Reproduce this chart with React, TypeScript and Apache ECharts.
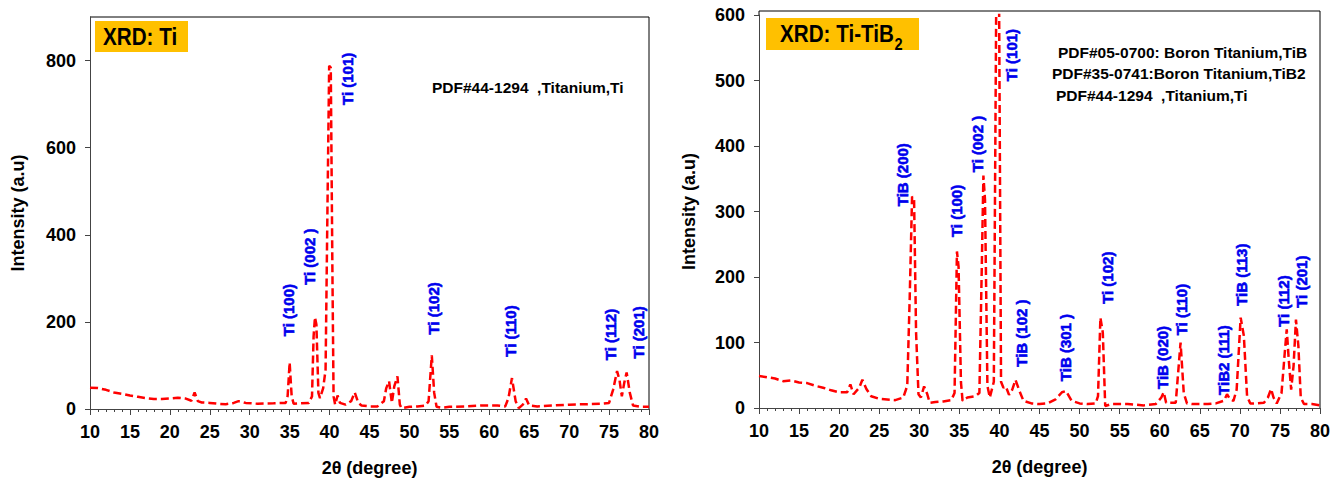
import React, { useEffect, useRef } from "react";
import * as echarts from "echarts";

// ---------- Ti pattern (left) ----------
const tiX = [10, 11, 12, 13, 14, 15, 16, 17, 18, 19, 20, 21, 22, 22.7, 23.1, 23.5, 24, 25, 26, 27, 28, 28.6, 29.5, 31, 33, 34.5, 34.75, 35.0, 35.25, 35.5, 37.4, 37.8, 38.0, 38.17, 38.35, 38.6, 38.8, 39.2, 39.5, 39.7, 39.95, 40.15, 40.35, 40.5, 40.7, 41.0, 41.3, 42, 42.7, 43.15, 43.6, 44, 45, 46, 46.8, 47.1, 47.45, 47.8, 48.1, 48.5, 48.8, 49, 50, 51, 52, 52.4, 52.8, 53.1, 53.4, 54, 55, 57, 59, 61, 62, 62.4, 62.84, 63.3, 63.7, 64.2, 64.6, 65, 66, 68, 70, 72, 74, 75, 75.5, 76.0, 76.3, 76.6, 76.9, 77.2, 77.6, 78, 79, 80];
const tiY = [49, 48, 44, 38, 35, 31, 28, 25, 23, 23, 24, 26, 24, 19, 38, 18, 15, 14, 12, 11, 14, 18, 14, 12, 13, 14, 30, 107, 30, 12, 14, 29, 167, 211, 194, 37, 25, 48, 90, 405, 788, 784, 328, 29, 10, 31, 14, 10, 18, 38, 14, 8, 6, 6, 18, 48, 64, 14, 52, 75, 10, 2, 5, 6, 8, 18, 123, 37, 5, 3, 5, 6, 8, 8, 6, 25, 71, 18, 2, 10, 24, 8, 6, 8, 10, 11, 12, 14, 44, 87, 67, 29, 60, 84, 37, 8, 5, 5];

const tiLabelNames = ["Ti (100)", "Ti (002 )", "Ti (101)", "Ti (102)", "Ti (110)", "Ti (112)", "Ti (201)"];
const tiLabelX = [34.8, 37.5, 42.3, 53.0, 62.7, 75.2, 78.65];
const tiLabelY = [167, 285, 698, 171, 120, 112, 116];

// ---------- Ti-TiB2 pattern (right) ----------
const tibX = [10, 11, 12, 13, 14, 15, 16, 17, 18, 19, 20, 21, 21.4, 21.8, 22.5, 22.9, 23.4, 24, 25, 26, 27, 28, 28.5, 28.8, 29.1, 29.35, 29.6, 29.9, 30.2, 30.6, 31, 31.3, 32, 33, 34, 34.4, 34.7, 34.9, 35.2, 35.4, 36, 37, 37.5, 37.8, 38.0, 38.2, 38.5, 38.8, 39.3, 39.8, 40.2, 40.5, 40.8, 41.2, 41.6, 42, 42.5, 43, 44, 45, 46, 47, 47.8, 48.3, 49, 50, 51, 52, 52.3, 52.6, 52.9, 53.2, 54, 56, 58, 59.5, 60.2, 60.5, 60.8, 62, 62.3, 62.6, 63, 63.4, 64, 66, 67, 68, 68.4, 68.8, 69.2, 69.6, 70.1, 70.5, 70.9, 71.3, 72, 73, 73.5, 73.9, 74.2, 74.6, 75.2, 75.6, 75.85, 76.1, 76.4, 76.7, 77.0, 77.3, 77.6, 78, 79, 80];
const tibY = [49, 47, 45, 41, 42, 39, 38, 34, 31, 27, 24, 24, 36, 21, 31, 43, 29, 18, 14, 13, 12, 16, 34, 166, 323, 318, 115, 21, 16, 33, 21, 8, 9, 10, 12, 23, 239, 216, 39, 11, 16, 18, 23, 216, 355, 318, 34, 16, 40, 1000, 40, 31, 33, 20, 28, 43, 26, 11, 7, 6, 7, 13, 24, 26, 11, 7, 6, 7, 18, 138, 115, 3, 6, 6, 4, 6, 16, 24, 8, 8, 54, 100, 23, 7, 6, 6, 7, 11, 21, 13, 11, 28, 138, 110, 18, 7, 7, 8, 16, 29, 16, 7, 23, 84, 120, 74, 28, 64, 135, 95, 16, 6, 6, 4];

const tibLabelNames = ["TiB (200)", "Ti (100)", "Ti (002 )", "Ti (101)", "TiB (102 )", "TiB (301 )", "Ti (102)", "TiB (020)", "Ti (110)", "TiB2 (111)", "TiB (113)", "Ti (112)", "Ti (201)"];
const tibLabelX = [27.9, 34.6, 37.25, 41.5, 42.75, 48.25, 53.5, 60.4, 62.75, 67.9, 70.25, 75.5, 77.75];
const tibLabelY = [308, 261, 360, 499, 63, 41, 159, 29, 111, 20, 156, 124, 153];

const xTicks = { min: 10, max: 80, interval: 5 };
const leftYTicks = [0, 200, 400, 600, 800];
const rightYTicks = [0, 100, 200, 300, 400, 500, 600];

const FONT = "'Liberation Sans', Arial, Helvetica, sans-serif";
const BLUE = "#0000ee";

function measure(text: string, font: string): number {
  const c = document.createElement("canvas").getContext("2d");
  if (!c) return text.length * 12;
  c.font = font;
  return c.measureText(text).width;
}

export default function App() {
  const ref = useRef<HTMLDivElement>(null);

  useEffect(() => {
    if (!ref.current) return;
    const chart = echarts.init(ref.current, null, { renderer: "svg" });

    const axisColor = "#444";
    const mkX = (gridIndex: number) => ({
      type: "value",
      gridIndex,
      min: xTicks.min,
      max: xTicks.max,
      interval: xTicks.interval,
      axisLine: { show: true, onZero: false, lineStyle: { color: axisColor, width: 1 } },
      axisTick: { show: true, length: 6, lineStyle: { color: axisColor } },
      minorTick: { show: true, splitNumber: 5, length: 3, lineStyle: { color: axisColor } },
      axisLabel: { fontSize: 18, fontWeight: "bold", color: "#000", margin: 14, fontFamily: FONT },
      splitLine: { show: false },
      minorSplitLine: { show: false },
      name: "2θ (degree)",
      nameLocation: "middle",
      nameGap: 50,
      nameTextStyle: { fontSize: 18, fontWeight: "bold", color: "#000", fontFamily: FONT },
    });

    const mkY = (gridIndex: number, max: number, ticks: number[], nameGap: number) => ({
      type: "value",
      gridIndex,
      min: 0,
      max,
      axisLine: { show: true, lineStyle: { color: axisColor, width: 1 } },
      axisTick: { show: true, length: 5, customValues: ticks, lineStyle: { color: axisColor } },
      axisLabel: {
        customValues: ticks,
        fontSize: 18,
        fontWeight: "bold",
        color: "#000",
        margin: 14,
        fontFamily: FONT,
      },
      splitLine: { show: false },
      name: "Intensity (a.u)",
      nameLocation: "middle",
      nameGap,
      nameTextStyle: { fontSize: 18, fontWeight: "bold", color: "#000", fontFamily: FONT },
    });

    const lineStyle = { color: "#ff0000", width: 2.5, type: [8, 4] as number[] };
    const labelStyle = {
      show: true,
      formatter: (p: any) => p.data[2],
      rotate: 90,
      position: "inside",
      align: "left",
      verticalAlign: "middle",
      color: BLUE,
      opacity: 1,
      textBorderWidth: 0.6,
      textBorderColor: BLUE,
      fontSize: 15,
      fontWeight: "bold",
      fontFamily: FONT,
    };

    const titleFont = `bold 24px ${FONT}`;
    const sx = 0.86;
    const mainW = measure("XRD: Ti-TiB", titleFont) * sx;

    const pdfStyle = (text: string) => ({
      text,
      fill: "#000",
      fontSize: 15.5,
      fontWeight: "bold",
      fontFamily: FONT,
      textAlign: "left",
      textVerticalAlign: "middle",
    });

    const option: any = {
      animation: false,
      backgroundColor: "#ffffff",
      grid: [
        { left: 90, top: 17, width: 559, height: 392, containLabel: false },
        { left: 759, top: 15, width: 561, height: 393, containLabel: false },
      ],
      xAxis: [mkX(0), mkX(1)],
      yAxis: [mkY(0, 900, leftYTicks, 63), mkY(1, 600, rightYTicks, 61)],
      series: [
        {
          type: "line",
          xAxisIndex: 0,
          yAxisIndex: 0,
          data: tiX.map((x, i) => [x, tiY[i]]),
          symbol: "none",
          showSymbol: false,
          lineStyle,
          clip: true,
          silent: true,
        },
        {
          type: "line",
          xAxisIndex: 1,
          yAxisIndex: 1,
          data: tibX.map((x, i) => [x, tibY[i]]),
          symbol: "none",
          showSymbol: false,
          lineStyle,
          clip: true,
          silent: true,
        },
        {
          type: "scatter",
          xAxisIndex: 0,
          yAxisIndex: 0,
          symbolSize: 0,
          itemStyle: { color: BLUE, opacity: 1 },
          data: tiLabelX.map((x, i) => [x, tiLabelY[i], tiLabelNames[i]]),
          label: labelStyle,
          silent: true,
          clip: false,
        },
        {
          type: "scatter",
          xAxisIndex: 1,
          yAxisIndex: 1,
          symbolSize: 0,
          itemStyle: { color: BLUE, opacity: 1 },
          data: tibLabelX.map((x, i) => [x, tibLabelY[i], tibLabelNames[i]]),
          label: labelStyle,
          silent: true,
          clip: false,
        },
      ],
      graphic: [
        // frame lines (top / right)
        { type: "polyline", shape: { points: [[90, 17], [649, 17], [649, 409]] }, style: { stroke: "#000", lineWidth: 1, fill: null }, silent: true },
        { type: "polyline", shape: { points: [[759, 15], [759, 11], [1320, 11], [1320, 408]] }, style: { stroke: "#000", lineWidth: 1, fill: null }, silent: true },
        // title boxes
        { type: "rect", shape: { x: 95, y: 21, width: 93, height: 31 }, style: { fill: "#FFC000" }, silent: true },
        { type: "text", x: 103, y: 37, scaleX: sx, style: { text: "XRD: Ti", fill: "#000", font: titleFont, textAlign: "left", textVerticalAlign: "middle" }, silent: true },
        { type: "rect", shape: { x: 766, y: 18, width: 153, height: 32 }, style: { fill: "#FFC000" }, silent: true },
        { type: "text", x: 780, y: 34, scaleX: sx, style: { text: "XRD: Ti-TiB", fill: "#000", font: titleFont, textAlign: "left", textVerticalAlign: "middle" }, silent: true },
        { type: "text", x: 780 + mainW + 0.5, y: 44, scaleX: sx, style: { text: "2", fill: "#000", font: `bold 17px ${FONT}`, textAlign: "left", textVerticalAlign: "middle" }, silent: true },
        // PDF reference texts
        { type: "text", x: 432, y: 87, style: pdfStyle("PDF#44-1294  ,Titanium,Ti"), silent: true },
        { type: "text", x: 1058, y: 52, style: pdfStyle("PDF#05-0700: Boron Titanium,TiB"), silent: true },
        { type: "text", x: 1052, y: 73, style: pdfStyle("PDF#35-0741:Boron Titanium,TiB2"), silent: true },
        { type: "text", x: 1056, y: 95, style: pdfStyle("PDF#44-1294  ,Titanium,Ti"), silent: true },
      ],
    };

    chart.setOption(option);
    return () => chart.dispose();
  }, []);

  return (
    <div
      ref={ref}
      style={{ position: "absolute", left: 0, top: 0, width: 1341, height: 484, background: "#fff" }}
    />
  );
}
